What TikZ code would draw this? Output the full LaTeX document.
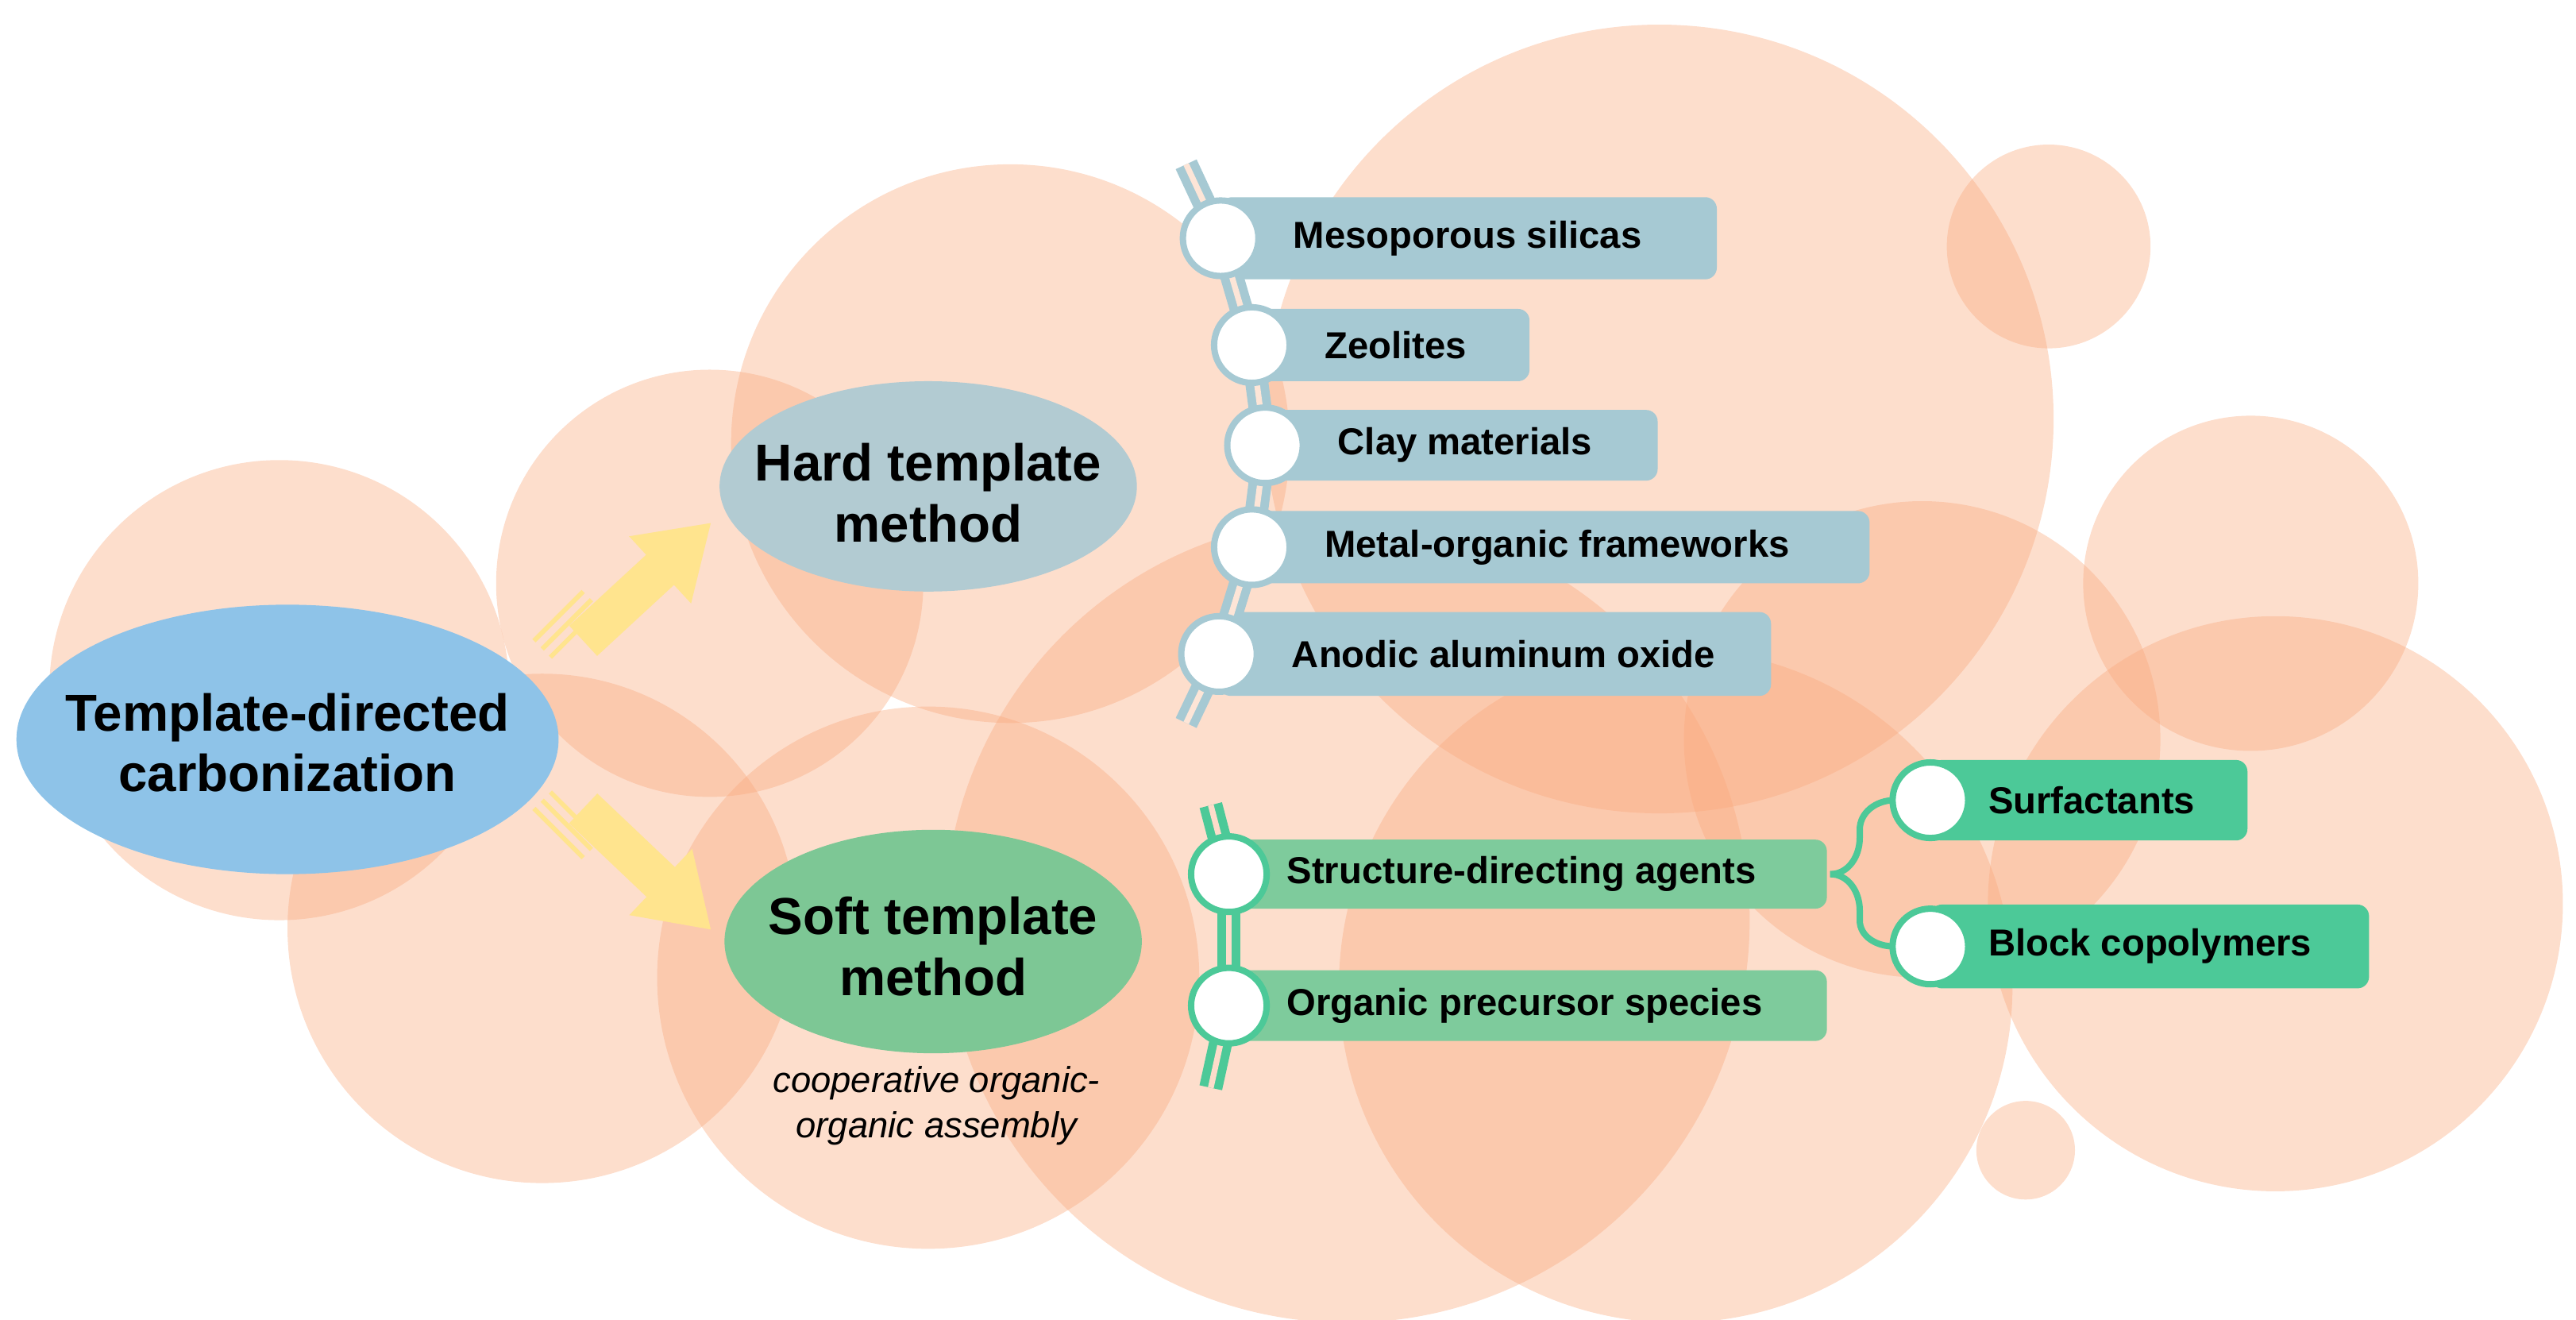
\documentclass[tikz,border=0pt]{standalone}
\usepackage{fontspec}
\setmainfont{Liberation Sans}
\usetikzlibrary{positioning,calc,arrows.meta}
\definecolor{bubble}{HTML}{F9A77A}
\definecolor{mainblue}{HTML}{8EC3E8}
\definecolor{hardgrey}{HTML}{B2CBD2}
\definecolor{hardbox}{HTML}{A6C9D3}
\definecolor{softgreen}{HTML}{7DC795}
\definecolor{softbox}{HTML}{7ECB9C}
\definecolor{subbox}{HTML}{4CC998}
\definecolor{arrowyel}{HTML}{FFE48E}
\begin{document}
\begin{tikzpicture}[x=0.02cm,y=-0.02cm]
\tikzstyle{bub} = [fill=bubble, fill opacity=0.38];
\tikzstyle{big} = [font=\fontsize{18}{21}\selectfont\bfseries, align=center];
\tikzstyle{item} = [font=\fontsize{13}{15}\selectfont\bfseries, anchor=west, inner sep=0pt];
\tikzstyle{dot} = [circle, fill=white, line width=2.2pt, minimum size=0.92cm, inner sep=0pt];
\tikzstyle{link} = [line width=3pt, double distance=2pt];

\useasboundingbox (0,0) rectangle (1568,803);

% background bubbles
\foreach \cx/\cy/\r in {170/420/140, 330/565/155, 432/355/130, 615/270/170,
  565/595/165, 1010/255/240, 820/560/245, 1020/600/205, 1170/450/145,
  1385/550/175, 1370/355/102, 1247/150/62, 1233/700/30}
  \fill[bub] (\cx,\cy) circle (\r);

% yellow arrows
\foreach \ya/\yb/\sg in {390/318/1, 492/566/-1} {
  \draw[arrowyel, line width=0.5cm, -{Triangle[width=1.05cm,length=0.85cm]}]
    (355,\ya) -- (433,\yb);
  \foreach \k in {1,2,3}
    \draw[arrowyel, line width=1.6pt]
      ($(355,\ya)+(-\k*5,-\sg*\k*5)+(-15,\sg*15)$) -- ($(355,\ya)+(-\k*5,-\sg*\k*5)+(15,-\sg*15)$);
}

% main ellipses
\fill[mainblue] (175,450) ellipse (165 and 82);
\node[big] (main) at (175,452) {Template-directed\\carbonization};
\fill[hardgrey] (565,296) ellipse (127 and 64);
\node[big] (hard) at (565,300) {Hard template\\method};
\fill[softgreen] (568,573) ellipse (127 and 68);
\node[big] (soft) at (568,576) {Soft template\\method};
\node[font=\fontsize{12.5}{15.5}\selectfont\itshape, align=center] (coop) at (570,673)
  {cooperative organic-\\organic assembly};

% hard template items
\foreach \n/\cx/\cy/\w/\h/\txt in {h1/743/145/302/50/Mesoporous silicas,
  h2/762/210/169/44/Zeolites, h3/770/271/239/43/Clay materials,
  h4/762/333/376/44/Metal-organic frameworks, h5/742/398/336/51/Anodic aluminum oxide} {
  \fill[hardbox, rounded corners=4pt] (\cx,\cy-\h/2) rectangle (\cx+\w,\cy+\h/2);
  \node[item] (\n t) at (\cx+44,\cy) {\txt};
  \coordinate (\n) at (\cx,\cy);
}
\coordinate (htop) at (722,100);
\coordinate (hbot) at (722,440);
\foreach \a/\b in {htop/h1, h1/h2, h2/h3, h3/h4, h4/h5, h5/hbot}
  \draw[link, draw=hardbox, double=bubble!30] (\a) -- (\b);
\foreach \n in {h1,h2,h3,h4,h5}
  \node[dot, draw=hardbox] at (\n) {};

% soft template items
\foreach \n/\cx/\cy/\w/\h/\col/\txt in {s1/748/532/364/42/softbox/Structure-directing agents,
  s2/748/612/364/43/softbox/Organic precursor species,
  s3/1175/487/193/49/subbox/Surfactants, s4/1175/576/267/51/subbox/Block copolymers} {
  \fill[\col, rounded corners=4pt] (\cx,\cy-\h/2) rectangle (\cx+\w,\cy+\h/2);
  \node[item] (\n t) at (\cx+35,\cy) {\txt};
  \coordinate (\n) at (\cx,\cy);
}
\coordinate (stop) at (737,490);
\coordinate (sbot) at (737,662);
\foreach \a/\b in {stop/s1, s1/s2, s2/sbot}
  \draw[link, draw=subbox, double=bubble!40] (\a) -- (\b);
\coordinate (brace) at (1114,532);
\draw[subbox, line width=2.2pt] (brace) to[out=0,in=-90] (1132,510) -- (1132,505)
  to[out=90,in=180] (1153,487);
\draw[subbox, line width=2.2pt] (brace) to[out=0,in=90] (1132,554) -- (1132,560)
  to[out=-90,in=180] (1153,576);
\foreach \n in {s1,s2,s3,s4}
  \node[dot, draw=subbox] at (\n) {};
\end{tikzpicture}
\end{document}
